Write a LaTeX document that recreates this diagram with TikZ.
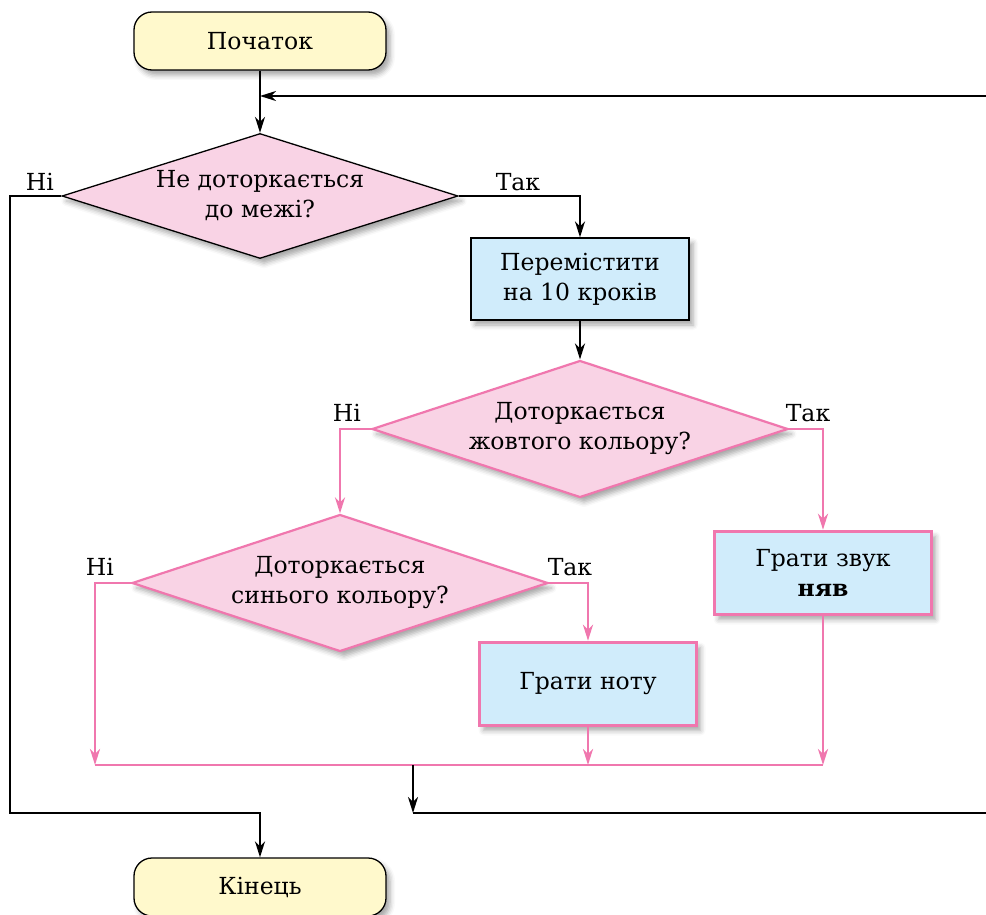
\documentclass[tikz,border=0pt]{standalone}
\usepackage{fontspec}
\setmainfont{DejaVu Serif}
\usetikzlibrary{shapes.geometric,arrows.meta,shadows.blur}
\definecolor{termfill}{HTML}{FFF9CC}
\definecolor{decfill}{HTML}{F9D3E5}
\definecolor{actfill}{HTML}{D0ECFB}
\definecolor{pinkline}{HTML}{F077AE}
\tikzset{
  shad/.style={blur shadow={shadow xshift=4pt,shadow yshift=-5pt,shadow blur radius=5pt,shadow opacity=35}},
  term/.style={draw=black,line width=1.3pt,fill=termfill,rounded corners=18pt,minimum width=252pt,minimum height=58pt,shad},
  dec/.style={diamond,draw=black,line width=1.3pt,fill=decfill,align=center,inner sep=0pt,shape aspect=3.17,minimum width=396pt,minimum height=125pt,shad},
  decp/.style={diamond,draw=pinkline,line width=2.2pt,fill=decfill,align=center,inner sep=0pt,shape aspect=3.04,minimum width=416pt,minimum height=137pt,shad},
  act/.style={draw=black,line width=1.3pt,fill=actfill,align=center,minimum width=218pt,minimum height=82pt,shad},
  actp/.style={draw=pinkline,line width=3.5pt,fill=actfill,align=center,minimum width=217pt,minimum height=83pt,shad},
  flow/.style={draw=black,line width=2.2pt,-{Stealth[length=16pt,width=10pt,inset=5pt]}},
  bline/.style={draw=black,line width=2.2pt},
  pflow/.style={draw=pinkline,line width=2.8pt,-{Stealth[length=16pt,width=10pt,inset=5pt]}},
  pline/.style={draw=pinkline,line width=2.8pt},
  lbl/.style={inner sep=0pt}
}
\begin{document}
\begin{tikzpicture}[x=1pt,y=-1pt,font=\fontsize{23.5}{30}\selectfont]
\useasboundingbox (0,0) rectangle (986,915);
\node[term] (start) at (260,41) {Початок};
\node[dec] (d1) at (260,196) {Не доторкається\\до межі?};
\node[act] (move) at (580,279) {Перемістити\\на 10 кроків};
\node[decp] (d2) at (580,429) {Доторкається\\жовтого кольору?};
\node[actp] (meow) at (823,573) {Грати звук\\\textbf{няв}};
\node[decp] (d3) at (340,583) {Доторкається\\синього кольору?};
\node[actp] (note) at (588,684) {Грати ноту};
\node[term] (end) at (260,887) {Кінець};

\node[lbl] (n1) at (40,182) {Ні};
\node[lbl] (t1) at (518,182) {Так};
\node[lbl] (n2) at (347,413) {Ні};
\node[lbl] (t2) at (808,413) {Так};
\node[lbl] (n3) at (100,567) {Ні};
\node[lbl] (t3) at (570,567) {Так};

\coordinate (loopR) at (986,96);
\coordinate (loopJ) at (260,96);
\coordinate (leftB) at (10,813);
\coordinate (jl) at (95,765);
\coordinate (jr) at (823,765);
\coordinate (jm) at (413,765);
\coordinate (jb) at (413,813);
\coordinate (rb) at (986,813);

\draw[flow] (start) -- (d1);
\draw[flow] (loopR) -- (loopJ);
\draw[flow] (d1.west) -- (d1.west -| leftB) -- (leftB) -| (end.north);
\draw[flow] (d1.east) -| (move.north);
\draw[flow] (move) -- (d2);
\draw[pflow] (d2.west) -| (d3.north);
\draw[pflow] (d2.east) -| (meow.north);
\draw[pflow] (d3.west) -| (jl);
\draw[pflow] (d3.east) -| (note.north);
\draw[pflow] (note.south) -- (note.south |- jl);
\draw[pflow] (meow.south) -- (meow.south |- jl);
\draw[pline] (jl) -- (jr);
\draw[flow] (jm) -- (jb);
\draw[bline] (jb) -- (rb);
\end{tikzpicture}
\end{document}
